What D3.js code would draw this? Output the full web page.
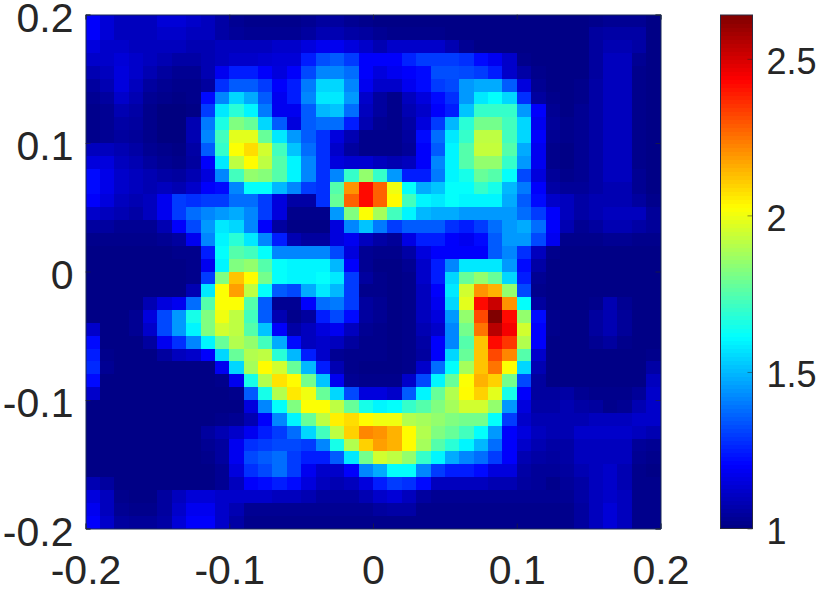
<!DOCTYPE html>
<html><head><meta charset="utf-8">
<style>html,body{margin:0;padding:0;background:#fff}svg{display:block}text{font-family:"Liberation Sans",Arial,sans-serif;fill:#262626}</style>
<script src="https://cdn.jsdelivr.net/npm/d3@7/dist/d3.min.js"></script>
</head><body><svg id="c" width="835" height="592"></svg>
<script>
const xTicks=[-0.2,-0.1,0,0.1,0.2];
const yTicks=[-0.2,-0.1,0,0.1,0.2];
const barTicks=[1,1.5,2,2.5];
const valueRange=[1,2.64];
const jetStops=["#000080","#0000ff","#0080ff","#00ffff","#80ff80","#ffff00","#ff8000","#ff0000","#800000"];
const gridRows=[
[1.2,1.14,1.1,1.1,1.1,1.14,1.14,1.12,1.1,1.06,1.03,1.02,1.02,1.02,1.02,1.03,1.05,1.05,1.03,1.02,1.01,1.01,1.01,1.01,1.01,1.01,1.01,1.01,1.01,1.01,1.01,1.01,1.01,1.01,1.01,1.02,1.03,1.03,1.03,1.01],
[1.2,1.14,1.1,1.1,1.1,1.12,1.12,1.1,1.1,1.06,1.04,1.03,1.03,1.03,1.03,1.05,1.08,1.08,1.06,1.05,1.03,1.02,1.02,1.02,1.02,1.01,1.01,1.01,1.01,1.01,1.01,1.01,1.01,1.01,1.01,1.05,1.06,1.06,1.06,1.01],
[1.15,1.12,1.12,1.1,1.1,1.1,1.1,1.08,1.08,1.1,1.1,1.1,1.1,1.12,1.12,1.15,1.18,1.18,1.15,1.12,1.08,1.12,1.12,1.12,1.12,1.08,1.03,1.01,1.01,1.01,1.01,1.01,1.01,1.01,1.01,1.05,1.08,1.08,1.06,1.01],
[1.12,1.12,1.14,1.12,1.1,1.08,1.06,1.06,1.08,1.1,1.12,1.12,1.13,1.14,1.14,1.25,1.33,1.35,1.3,1.2,1.2,1.2,1.26,1.3,1.3,1.3,1.28,1.22,1.18,1.12,1.02,1.01,1.01,1.01,1.01,1.05,1.1,1.1,1.03,1.01],
[1.08,1.1,1.15,1.12,1.08,1.05,1.03,1.03,1.08,1.18,1.25,1.25,1.2,1.15,1.2,1.32,1.42,1.42,1.38,1.2,1.15,1.18,1.2,1.22,1.33,1.33,1.32,1.3,1.25,1.12,1.06,1.02,1.01,1.01,1.01,1.05,1.1,1.1,1.02,1.01],
[1.05,1.08,1.15,1.1,1.05,1.03,1.02,1.02,1.05,1.28,1.35,1.35,1.3,1.2,1.25,1.4,1.55,1.55,1.42,1.18,1.12,1.12,1.18,1.22,1.3,1.32,1.45,1.48,1.48,1.35,1.15,1.03,1.01,1.01,1.02,1.06,1.1,1.1,1.02,1.01],
[1.03,1.05,1.12,1.08,1.03,1.02,1.01,1.02,1.22,1.42,1.55,1.48,1.35,1.18,1.25,1.42,1.58,1.58,1.45,1.12,1.05,1.02,1.1,1.15,1.22,1.28,1.45,1.58,1.62,1.55,1.28,1.05,1.02,1.01,1.02,1.06,1.1,1.1,1.02,1.01],
[1.02,1.03,1.08,1.06,1.02,1,1,1.01,1.3,1.58,1.68,1.6,1.4,1.18,1.18,1.35,1.5,1.52,1.38,1.1,1.05,1.02,1.08,1.12,1.2,1.25,1.52,1.7,1.7,1.7,1.45,1.2,1.03,1.01,1.03,1.06,1.1,1.1,1.02,1.01],
[1.02,1.03,1.06,1.05,1.02,1,1,1.08,1.4,1.66,1.82,1.78,1.55,1.35,1.15,1.35,1.38,1.38,1.25,1.08,1.03,1.02,1.06,1.15,1.3,1.5,1.68,1.8,1.8,1.72,1.55,1.18,1.04,1.02,1.03,1.06,1.1,1.1,1.02,1.01],
[1.02,1.03,1.05,1.04,1.02,1,1,1.08,1.42,1.72,1.98,1.98,1.78,1.58,1.45,1.35,1.28,1.15,1.08,1.02,1.02,1.02,1.05,1.22,1.38,1.58,1.7,1.92,1.92,1.72,1.55,1.2,1.03,1.02,1.03,1.06,1.1,1.1,1.02,1.01],
[1.1,1.1,1.08,1.06,1.03,1.02,1.01,1.06,1.35,1.7,2.02,2.08,1.95,1.72,1.52,1.38,1.28,1.12,1.05,1.02,1.02,1.02,1.04,1.2,1.35,1.6,1.75,1.93,1.93,1.75,1.48,1.18,1.02,1.01,1.03,1.06,1.1,1.1,1.02,1.01],
[1.15,1.15,1.1,1.08,1.05,1.03,1.02,1.05,1.2,1.58,1.92,2.03,1.92,1.75,1.6,1.42,1.28,1.15,1.13,1.13,1.1,1.08,1.1,1.2,1.42,1.6,1.75,1.85,1.85,1.7,1.45,1.18,1.02,1.01,1.03,1.06,1.1,1.1,1.02,1.01],
[1.22,1.17,1.12,1.1,1.08,1.06,1.05,1.08,1.15,1.42,1.72,1.85,1.83,1.75,1.6,1.42,1.28,1.42,1.7,1.85,1.7,1.45,1.25,1.25,1.4,1.6,1.65,1.78,1.75,1.62,1.32,1.15,1.04,1.02,1.03,1.06,1.1,1.1,1.03,1.01],
[1.22,1.17,1.12,1.1,1.08,1.1,1.08,1.12,1.2,1.22,1.42,1.62,1.62,1.5,1.42,1.3,1.28,1.75,2.2,2.42,2.28,2,1.62,1.48,1.52,1.62,1.62,1.7,1.65,1.5,1.4,1.2,1.06,1.04,1.04,1.06,1.08,1.08,1.03,1.01],
[1.2,1.15,1.1,1.08,1.1,1.18,1.3,1.28,1.3,1.3,1.38,1.38,1.3,1.15,1.06,1.06,1.28,1.78,2.28,2.42,2.28,2.03,1.72,1.6,1.58,1.62,1.6,1.6,1.6,1.48,1.35,1.22,1.12,1.1,1.06,1.08,1.08,1.08,1.05,1.02],
[1.12,1.1,1.08,1.06,1.1,1.18,1.3,1.38,1.42,1.45,1.48,1.42,1.3,1.15,1.02,1.02,1.02,1.45,1.82,2.02,1.88,1.72,1.6,1.5,1.48,1.48,1.45,1.45,1.45,1.45,1.38,1.3,1.2,1.1,1.06,1.08,1.1,1.1,1.1,1.04],
[1.05,1.05,1.03,1.03,1.03,1.08,1.2,1.32,1.45,1.58,1.55,1.42,1.2,1.05,1.01,1.01,1.01,1.15,1.42,1.52,1.4,1.3,1.35,1.35,1.35,1.28,1.25,1.3,1.38,1.45,1.48,1.38,1.2,1.08,1.03,1.05,1.08,1.08,1.06,1.04],
[1.02,1.02,1.02,1.02,1.02,1.03,1.05,1.18,1.42,1.6,1.68,1.58,1.42,1.25,1.08,1.05,1.05,1.15,1.18,1.1,1.06,1.04,1.16,1.25,1.25,1.2,1.18,1.22,1.35,1.45,1.45,1.32,1.18,1.02,1.02,1.02,1.03,1.03,1.02,1.02],
[1.01,1.01,1.01,1.01,1.01,1.01,1.02,1.02,1.25,1.62,1.75,1.72,1.62,1.42,1.42,1.42,1.42,1.32,1.15,1.03,1.02,1.02,1.06,1.15,1.2,1.2,1.2,1.2,1.35,1.42,1.28,1.1,1.02,1.01,1.01,1.01,1.01,1.01,1.01,1.01],
[1.01,1.01,1.01,1.01,1.01,1.01,1.01,1.02,1.18,1.6,1.82,1.85,1.75,1.62,1.6,1.6,1.6,1.5,1.2,1.03,1.01,1.01,1.03,1.12,1.25,1.42,1.58,1.58,1.58,1.45,1.22,1.06,1.01,1.01,1.01,1.01,1.01,1.01,1.01,1.01],
[1.01,1.01,1.01,1.01,1.01,1.01,1.01,1.02,1.3,1.82,2.12,2.03,1.8,1.62,1.6,1.6,1.62,1.58,1.3,1.05,1.02,1.01,1.02,1.12,1.25,1.55,1.78,1.85,1.78,1.55,1.25,1.03,1.01,1.01,1.01,1.01,1.01,1.01,1.01,1.01],
[1.01,1.01,1.01,1.01,1.01,1.01,1.01,1.08,1.58,2.02,2.18,1.92,1.62,1.35,1.32,1.48,1.58,1.5,1.3,1.02,1.02,1.01,1.02,1.1,1.2,1.58,1.95,2.2,2.15,1.85,1.32,1.02,1.01,1.01,1.01,1.01,1.01,1.01,1.01,1.01],
[1.01,1.01,1.01,1.01,1.08,1.15,1.18,1.38,1.75,2.02,2.02,1.75,1.35,1.03,1.03,1.2,1.38,1.4,1.3,1.05,1.03,1.01,1.02,1.1,1.18,1.55,1.98,2.42,2.52,2.2,1.62,1.05,1.01,1.01,1.01,1.02,1.08,1.03,1.01,1.01],
[1.01,1.01,1.01,1.03,1.15,1.32,1.45,1.65,1.82,2,1.92,1.72,1.35,1.08,1.02,1.05,1.25,1.32,1.22,1.05,1.03,1.01,1.02,1.1,1.15,1.45,1.85,2.32,2.64,2.42,1.85,1.22,1.02,1.01,1.01,1.05,1.08,1.04,1.01,1.01],
[1.12,1.01,1.01,1.03,1.12,1.32,1.45,1.6,1.82,1.95,1.92,1.75,1.52,1.2,1.06,1.1,1.15,1.18,1.1,1.03,1.02,1.01,1.02,1.08,1.12,1.42,1.8,2.25,2.55,2.45,1.95,1.2,1.02,1.01,1.01,1.05,1.08,1.04,1.01,1.01],
[1.22,1.01,1.01,1.01,1.05,1.18,1.28,1.42,1.6,1.78,1.9,1.85,1.72,1.48,1.22,1.1,1.12,1.1,1.05,1.02,1.02,1.01,1.02,1.06,1.2,1.42,1.75,2.12,2.42,2.35,1.9,1.2,1.01,1.01,1.01,1.03,1.05,1.02,1.01,1.01],
[1.25,1.02,1.01,1.01,1.01,1.05,1.1,1.12,1.2,1.55,1.78,1.9,1.92,1.68,1.5,1.25,1.12,1.03,1.02,1.02,1.02,1.01,1.02,1.05,1.2,1.55,1.78,2.12,2.32,2.22,1.75,1.12,1.01,1.01,1.01,1.01,1.01,1.01,1.01,1.02],
[1.27,1.03,1.01,1.01,1.01,1.01,1.01,1.01,1.01,1.18,1.55,1.88,2.03,1.95,1.78,1.5,1.25,1.08,1.02,1.01,1.01,1.01,1.02,1.12,1.38,1.62,1.88,2.12,2.25,2.02,1.55,1.08,1.01,1.01,1.01,1.01,1.01,1.01,1.01,1.06],
[1.22,1.01,1.01,1.01,1.01,1.01,1.01,1.01,1.01,1.02,1.18,1.65,1.9,2.07,2.03,1.8,1.52,1.18,1.03,1.02,1.02,1.02,1.12,1.32,1.6,1.78,2.02,2.15,2.1,1.8,1.32,1.05,1.01,1.01,1.01,1.01,1.01,1.01,1.01,1.1],
[1.12,1.01,1.01,1.01,1.01,1.01,1.01,1.01,1.01,1.01,1.02,1.35,1.65,1.9,2.06,2,1.78,1.55,1.32,1.15,1.15,1.12,1.35,1.6,1.78,1.9,2.03,2.1,1.98,1.65,1.2,1.05,1.05,1.06,1.03,1.02,1.02,1.02,1.04,1.12],
[1.01,1.01,1.01,1.01,1.01,1.01,1.01,1.01,1.01,1.01,1.01,1.15,1.42,1.62,1.82,2.02,2.02,1.92,1.78,1.65,1.6,1.62,1.7,1.75,1.82,1.88,1.95,1.95,1.85,1.45,1.15,1.06,1.06,1.08,1.06,1.05,1.02,1.03,1.08,1.12],
[1.01,1.01,1.01,1.01,1.01,1.01,1.01,1.01,1.01,1.02,1.03,1.08,1.2,1.42,1.6,1.78,1.92,2.05,2.08,2.03,2,2,1.9,1.88,1.85,1.82,1.8,1.8,1.62,1.3,1.12,1.08,1.08,1.08,1.08,1.1,1.1,1.1,1.12,1.12],
[1.01,1.01,1.01,1.01,1.01,1.01,1.01,1.01,1.05,1.08,1.12,1.18,1.25,1.3,1.38,1.55,1.72,1.92,2.1,2.22,2.2,2.15,2.03,1.9,1.82,1.78,1.72,1.62,1.45,1.2,1.15,1.1,1.08,1.08,1.12,1.12,1.12,1.12,1.1,1.08],
[1.01,1.01,1.01,1.01,1.01,1.01,1.01,1.01,1.03,1.05,1.18,1.28,1.3,1.32,1.32,1.3,1.42,1.65,1.9,2.1,2.18,2.15,2.03,1.88,1.75,1.68,1.6,1.5,1.38,1.2,1.12,1.08,1.06,1.06,1.1,1.1,1.1,1.1,1.04,1.03],
[1.01,1.01,1.01,1.01,1.01,1.01,1.01,1.01,1.02,1.05,1.18,1.32,1.35,1.38,1.3,1.25,1.25,1.35,1.58,1.8,1.95,1.92,1.85,1.7,1.6,1.48,1.42,1.38,1.3,1.2,1.08,1.06,1.05,1.06,1.1,1.1,1.1,1.1,1.03,1.02],
[1.01,1.01,1.01,1.01,1.01,1.01,1.01,1.01,1.01,1.03,1.15,1.28,1.32,1.38,1.3,1.18,1.12,1.12,1.2,1.42,1.48,1.62,1.62,1.42,1.3,1.25,1.25,1.22,1.15,1.15,1.06,1.04,1.04,1.05,1.08,1.1,1.12,1.08,1.02,1.01],
[1.08,1.05,1.01,1.01,1.01,1.01,1.01,1.01,1.01,1.03,1.1,1.2,1.22,1.25,1.22,1.15,1.1,1.08,1.1,1.15,1.25,1.3,1.28,1.22,1.1,1.1,1.1,1.1,1.08,1.08,1.05,1.04,1.02,1.04,1.06,1.1,1.12,1.08,1.02,1.02],
[1.15,1.1,1.02,1.01,1.01,1.05,1.1,1.14,1.14,1.12,1.12,1.12,1.12,1.1,1.1,1.08,1.05,1.05,1.05,1.08,1.12,1.14,1.1,1.05,1.03,1.03,1.03,1.03,1.03,1.03,1.03,1.03,1.03,1.03,1.06,1.1,1.12,1.1,1.02,1.02],
[1.18,1.1,1.03,1.02,1.02,1.05,1.12,1.18,1.18,1.12,1.08,1.03,1.03,1.03,1.03,1.03,1.03,1.03,1.03,1.03,1.05,1.06,1.06,1.02,1.02,1.02,1.02,1.02,1.02,1.02,1.02,1.02,1.02,1.02,1.05,1.1,1.14,1.1,1.02,1.02],
[1.2,1.12,1.05,1.04,1.04,1.06,1.14,1.2,1.2,1.12,1.06,1.02,1.02,1.02,1.02,1.02,1.02,1.02,1.02,1.02,1.02,1.02,1.02,1.02,1.02,1.02,1.02,1.02,1.02,1.02,1.02,1.02,1.02,1.02,1.05,1.1,1.14,1.1,1.02,1.02]
];
const svg=d3.select("#c");
const plot={l:85.5,r:660.5,t:14.5,b:528.5};
const bar={l:720.5,r:752.5,t:15,b:528.5};
const x=d3.scaleLinear().domain([-0.2,0.2]).range([plot.l,plot.r]);
const y=d3.scaleLinear().domain([-0.2,0.2]).range([plot.b,plot.t]);
const colX=d3.scaleBand().domain(d3.range(gridRows[0].length)).range([plot.l,plot.r]);
const rowY=d3.scaleBand().domain(d3.range(gridRows.length)).range([plot.t,plot.b]);
const colour=d3.scaleLinear().domain(jetStops.map((_,i)=>valueRange[0]+(valueRange[1]-valueRange[0])*i/(jetStops.length-1))).range(jetStops).clamp(true);
const heat=svg.append("g").attr("shape-rendering","crispEdges");
gridRows.forEach((row,r)=>{
  heat.selectAll(null).data(row).join("rect")
    .attr("x",(d,c)=>colX(c)).attr("y",rowY(r))
    .attr("width",colX.bandwidth()+0.5).attr("height",rowY.bandwidth()+0.5)
    .attr("fill",d=>colour(d));
});
const fmt=d=>d===0?"0":String(d);
const ink="#262626";
const font='"Liberation Sans",Arial,sans-serif';
const xAxis=svg.append("g").attr("transform",`translate(0,${plot.b})`).call(d3.axisBottom(x).tickValues(xTicks).tickFormat(fmt).tickSize(-5).tickPadding(0));
const yAxis=svg.append("g").attr("transform",`translate(${plot.l},0)`).call(d3.axisLeft(y).tickValues(yTicks).tickFormat(fmt).tickSize(-5).tickPadding(0));
svg.append("g").attr("transform",`translate(0,${plot.t})`).call(d3.axisTop(x).tickValues(xTicks).tickFormat("").tickSize(-5));
svg.append("g").attr("transform",`translate(${plot.r},0)`).call(d3.axisRight(y).tickValues(yTicks).tickFormat("").tickSize(-5));
svg.selectAll(".domain").attr("stroke","#1a2a55").attr("stroke-width",1);
svg.selectAll(".tick line").attr("stroke",ink).attr("stroke-opacity",0.6).attr("stroke-width",1);
xAxis.selectAll("text").attr("font-size",41).attr("dy",0).attr("y",55).attr("fill",ink).style("font-family",font);
yAxis.selectAll("text").attr("font-size",41).attr("x",-12).attr("y",2).attr("dy","0.36em").attr("fill",ink).style("font-family",font);
// colour bar
const barY=d3.scaleLinear().domain(valueRange).range([bar.b,bar.t]);
const levels=d3.range(128).map(i=>valueRange[0]+(i+0.5)*(valueRange[1]-valueRange[0])/128);
const step=(bar.b-bar.t)/128;
svg.append("g").attr("shape-rendering","crispEdges").selectAll("rect").data(levels).join("rect")
  .attr("x",bar.l).attr("width",bar.r-bar.l).attr("y",d=>barY(d)-step/2).attr("height",step+0.6).attr("fill",d=>colour(d));
const barAxis=svg.append("g").attr("transform",`translate(${bar.r},0)`).call(d3.axisRight(barY).tickValues(barTicks).tickFormat(d=>String(d)).tickSize(-5).tickPadding(0));
barAxis.select(".domain").remove();
barAxis.selectAll(".tick line").attr("stroke",ink).attr("stroke-opacity",0.5);
svg.append("rect").attr("x",bar.l).attr("y",bar.t).attr("width",bar.r-bar.l).attr("height",bar.b-bar.t).attr("fill","none").attr("stroke","#2a2a40").attr("stroke-width",1);
barAxis.selectAll("text").attr("font-size",36).attr("x",14).attr("y",2).attr("dy","0.36em").attr("fill",ink).style("font-family",font);
</script></body></html>
